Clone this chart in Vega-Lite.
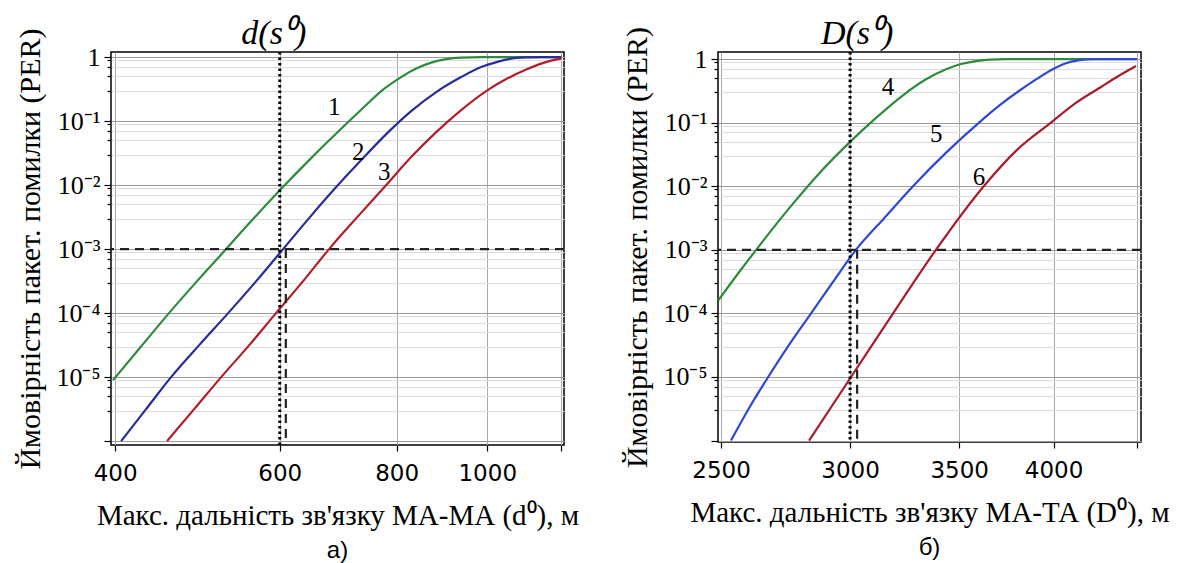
{
  "$schema": "https://vega.github.io/schema/vega-lite/v6.json",
  "background": "white",
  "padding": {"left": 15, "right": 5, "top": 16, "bottom": 3},
  "bounds": "flush",
  "spacing": 154,
  "config": {
    "view": {"stroke": "black", "strokeWidth": 1.5},
    "axis": {"domain": false, "labelColor": "black", "titleColor": "black", "tickColor": "black", "titleFontWeight": "normal", "labelFlush": false, "labelOverlap": false, "titleFont": "Liberation Serif"},
    "axisX": {"labelFont": "DejaVu Sans", "labelFontSize": 23, "titleFontSize": 29, "labelPadding": 11, "titlePadding": 16, "tickSize": 6, "tickWidth": 1.2, "gridColor": "#a8a8a8", "gridWidth": 1},
    "axisY": {"labelFont": "Liberation Serif", "labelFontSize": 26, "titleFontSize": 30, "labelPadding": 4, "titlePadding": 10, "tickWidth": 1.2}
  },
  "datasets": {
    "curvesA": [
      {"curve": "1", "x": 398, "p": 8.98e-6}, {"curve": "1", "x": 426.4, "p": 3.0e-5}, {"curve": "1", "x": 455.8, "p": 9.65e-5}, {"curve": "1", "x": 488.4, "p": 3.05e-4}, {"curve": "1", "x": 524.6, "p": 9.65e-4}, {"curve": "1", "x": 559.3, "p": 2.74e-3}, {"curve": "1", "x": 599, "p": 8.06e-3}, {"curve": "1", "x": 648.2, "p": 0.0264}, {"curve": "1", "x": 710.1, "p": 0.0965}, {"curve": "1", "x": 742.2, "p": 0.178}, {"curve": "1", "x": 770.2, "p": 0.294}, {"curve": "1", "x": 809, "p": 0.487}, {"curve": "1", "x": 839.5, "p": 0.661}, {"curve": "1", "x": 871.1, "p": 0.82}, {"curve": "1", "x": 903.8, "p": 0.931}, {"curve": "1", "x": 937.8, "p": 0.982}, {"curve": "1", "x": 985.2, "p": 1}, {"curve": "1", "x": 1200, "p": 1},
      {"curve": "2", "x": 406, "p": 1e-6}, {"curve": "2", "x": 431.7, "p": 3.16e-6}, {"curve": "2", "x": 459.1, "p": 1e-5}, {"curve": "2", "x": 492, "p": 3.16e-5}, {"curve": "2", "x": 528.4, "p": 1e-4}, {"curve": "2", "x": 566.2, "p": 3.16e-4}, {"curve": "2", "x": 604.9, "p": 1e-3}, {"curve": "2", "x": 644.9, "p": 3.05e-3}, {"curve": "2", "x": 689.4, "p": 9.3e-3}, {"curve": "2", "x": 733.3, "p": 0.0246}, {"curve": "2", "x": 779.8, "p": 0.0626}, {"curve": "2", "x": 829.2, "p": 0.1433}, {"curve": "2", "x": 881.9, "p": 0.284}, {"curve": "2", "x": 937.8, "p": 0.487}, {"curve": "2", "x": 985.2, "p": 0.698}, {"curve": "2", "x": 1027.4, "p": 0.85}, {"curve": "2", "x": 1060.8, "p": 0.947}, {"curve": "2", "x": 1100.7, "p": 0.989}, {"curve": "2", "x": 1142, "p": 1}, {"curve": "2", "x": 1200, "p": 1},
      {"curve": "3", "x": 454.6, "p": 1e-6}, {"curve": "3", "x": 485.9, "p": 3.16e-6}, {"curve": "3", "x": 519.4, "p": 1e-5}, {"curve": "3", "x": 556.6, "p": 3.16e-5}, {"curve": "3", "x": 594.5, "p": 1e-4}, {"curve": "3", "x": 635.5, "p": 3.16e-4}, {"curve": "3", "x": 677.4, "p": 1e-3}, {"curve": "3", "x": 726.1, "p": 3.16e-3}, {"curve": "3", "x": 779.8, "p": 0.01}, {"curve": "3", "x": 829.2, "p": 0.0274}, {"curve": "3", "x": 881.9, "p": 0.0673}, {"curve": "3", "x": 937.8, "p": 0.1485}, {"curve": "3", "x": 997.4, "p": 0.294}, {"curve": "3", "x": 1047.9, "p": 0.453}, {"curve": "3", "x": 1100.7, "p": 0.638}, {"curve": "3", "x": 1142.1, "p": 0.791}, {"curve": "3", "x": 1170.6, "p": 0.882}, {"curve": "3", "x": 1199.8, "p": 0.947}
    ],
    "curvesB": [
      {"curve": "4", "x": 2490, "p": 1.6e-4}, {"curve": "4", "x": 2560, "p": 4.2e-4}, {"curve": "4", "x": 2627, "p": 1e-3}, {"curve": "4", "x": 2760, "p": 4.9e-3}, {"curve": "4", "x": 2879, "p": 0.0171}, {"curve": "4", "x": 3000, "p": 0.0498}, {"curve": "4", "x": 3112, "p": 0.1186}, {"curve": "4", "x": 3224, "p": 0.255}, {"curve": "4", "x": 3340, "p": 0.48}, {"curve": "4", "x": 3436, "p": 0.69}, {"curve": "4", "x": 3509, "p": 0.835}, {"curve": "4", "x": 3584, "p": 0.93}, {"curve": "4", "x": 3661, "p": 0.98}, {"curve": "4", "x": 3739, "p": 1}, {"curve": "4", "x": 4500, "p": 1},
      {"curve": "5", "x": 2535, "p": 1e-6}, {"curve": "5", "x": 2600, "p": 3.2e-6}, {"curve": "5", "x": 2672, "p": 1e-5}, {"curve": "5", "x": 2752, "p": 3.2e-5}, {"curve": "5", "x": 2839, "p": 1e-4}, {"curve": "5", "x": 2930, "p": 3.2e-4}, {"curve": "5", "x": 3025, "p": 1e-3}, {"curve": "5", "x": 3150, "p": 3.2e-3}, {"curve": "5", "x": 3279, "p": 0.01}, {"curve": "5", "x": 3435, "p": 0.0334}, {"curve": "5", "x": 3600, "p": 0.1}, {"curve": "5", "x": 3712, "p": 0.193}, {"curve": "5", "x": 3801, "p": 0.303}, {"curve": "5", "x": 3902, "p": 0.478}, {"curve": "5", "x": 4000, "p": 0.706}, {"curve": "5", "x": 4070, "p": 0.859}, {"curve": "5", "x": 4139, "p": 0.953}, {"curve": "5", "x": 4216, "p": 0.993}, {"curve": "5", "x": 4306, "p": 1}, {"curve": "5", "x": 4500, "p": 1},
      {"curve": "6", "x": 2831, "p": 1e-6}, {"curve": "6", "x": 3004, "p": 1e-5}, {"curve": "6", "x": 3188, "p": 1e-4}, {"curve": "6", "x": 3387, "p": 1e-3}, {"curve": "6", "x": 3624, "p": 0.01}, {"curve": "6", "x": 3797, "p": 0.037}, {"curve": "6", "x": 3985, "p": 0.1}, {"curve": "6", "x": 4128, "p": 0.204}, {"curve": "6", "x": 4277, "p": 0.363}, {"curve": "6", "x": 4387, "p": 0.545}, {"curve": "6", "x": 4494, "p": 0.776}
    ],
    "hA": [{"p": 0.001}],
    "hB": [{"p": 0.001}],
    "vdotA": [{"x": 600}],
    "vdotB": [{"x": 3000}],
    "vdashA": [{"x": 609, "p": 0.001, "p2": 8.7e-7}],
    "vdashB": [{"x": 3030, "p": 0.001, "p2": 9.5e-7}],
    "labA": [{"t": "1", "x": 686, "p": 0.166}, {"t": "2", "x": 728, "p": 0.0328}, {"t": "3", "x": 776, "p": 0.016}],
    "labB": [{"t": "4", "x": 3165, "p": 0.363}, {"t": "5", "x": 3388, "p": 0.0665}, {"t": "6", "x": 3600, "p": 0.014}],
    "topA": [{"t": "d(s⁰)", "x": 600, "p": 1.2}],
    "topB": [{"t": "D(s⁰)", "x": 3000, "p": 1.29}]
  },
  "hconcat": [
    {
      "width": 453,
      "height": 393,
      "title": {"text": "а)", "orient": "bottom", "anchor": "middle", "font": "Liberation Sans", "fontSize": 24, "fontWeight": "normal", "color": "black", "offset": 9},
      "layer": [
        {
          "data": {"name": "curvesA"},
          "mark": {"type": "line", "strokeWidth": 2.2, "interpolate": "monotone"},
          "encoding": {
            "x": {"field": "x", "type": "quantitative", "scale": {"type": "log", "domain": [396, 1208], "nice": false},
              "axis": {"title": "Макс. дальність зв'язку МА-МА (d⁰), м", "values": [400, 600, 800, 1000, 1200], "labelExpr": "datum.value > 1100 ? '' : format(datum.value, 'd')", "grid": true}},
            "y": {"field": "p", "type": "quantitative", "scale": {"type": "log", "domain": [8.7e-7, 1.2], "nice": false},
              "axis": {"title": "Ймовірність пакет. помилки (PER)", "grid": true,
                "values": [1, 0.9, 0.7, 0.5, 0.3, 0.1, 0.09, 0.07, 0.05, 0.03, 0.01, 0.009, 0.007, 0.005, 0.003, 0.001, 0.0009, 0.0007, 0.0005, 0.0003, 0.0001, 0.00009, 0.00007, 0.00005, 0.00003, 0.00001, 0.000009, 0.000007, 0.000005, 0.000003, 0.000001],
                "labelExpr": "datum.value == 1 ? '1' : (abs(log(datum.value)/LN10 - round(log(datum.value)/LN10)) < 0.001 && datum.value > 0.000005 ? '10⁻' + ['','¹','²','³','⁴','⁵'][-round(log(datum.value)/LN10)] : '')",
                "gridColor": {"condition": {"test": "abs(log(datum.value)/LN10 - round(log(datum.value)/LN10)) < 0.001", "value": "#9a9a9a"}, "value": "#dcdcdc"},
                "tickSize": {"condition": {"test": "abs(log(datum.value)/LN10 - round(log(datum.value)/LN10)) < 0.001", "value": 7}, "value": 4}}},
            "color": {"field": "curve", "type": "nominal", "scale": {"domain": ["1", "2", "3", "4", "5", "6"], "range": ["#2e8a3c", "#2b2b9b", "#b01e2c", "#2e8a3c", "#3048d0", "#a81c2c"]}, "legend": null}
          }
        },
        {
          "data": {"name": "hA"},
          "mark": {"type": "rule", "strokeDash": [9, 6], "strokeWidth": 2.2, "color": "#222222"},
          "encoding": {"y": {"field": "p", "type": "quantitative", "scale": {"type": "log", "domain": [8.7e-7, 1.2], "nice": false}}}
        },
        {
          "data": {"name": "vdotA"},
          "mark": {"type": "rule", "strokeDash": [2.5, 3], "strokeWidth": 3, "color": "black"},
          "encoding": {"x": {"field": "x", "type": "quantitative", "scale": {"type": "log", "domain": [396, 1208], "nice": false}}}
        },
        {
          "data": {"name": "vdashA"},
          "mark": {"type": "rule", "strokeDash": [9, 6], "strokeWidth": 2.2, "color": "#222222"},
          "encoding": {
            "x": {"field": "x", "type": "quantitative", "scale": {"type": "log", "domain": [396, 1208], "nice": false}},
            "y": {"field": "p", "type": "quantitative", "scale": {"type": "log", "domain": [8.7e-7, 1.2], "nice": false}},
            "y2": {"field": "p2"}
          }
        },
        {
          "data": {"name": "labA"},
          "mark": {"type": "text", "font": "Liberation Serif", "fontSize": 25, "color": "black"},
          "encoding": {
            "x": {"field": "x", "type": "quantitative", "scale": {"type": "log", "domain": [396, 1208], "nice": false}},
            "y": {"field": "p", "type": "quantitative", "scale": {"type": "log", "domain": [8.7e-7, 1.2], "nice": false}},
            "text": {"field": "t"}
          }
        },
        {
          "data": {"name": "topA"},
          "mark": {"type": "text", "font": "Liberation Serif", "fontSize": 34, "fontStyle": "italic", "baseline": "alphabetic", "dy": -8, "dx": -6, "color": "black"},
          "encoding": {
            "x": {"field": "x", "type": "quantitative", "scale": {"type": "log", "domain": [396, 1208], "nice": false}},
            "y": {"field": "p", "type": "quantitative", "scale": {"type": "log", "domain": [8.7e-7, 1.2], "nice": false}},
            "text": {"field": "t"}
          }
        }
      ]
    },
    {
      "width": 423,
      "height": 390,
      "title": {"text": "б)", "orient": "bottom", "anchor": "middle", "font": "Liberation Sans", "fontSize": 24, "fontWeight": "normal", "color": "black", "offset": 9},
      "layer": [
        {
          "data": {"name": "curvesB"},
          "mark": {"type": "line", "strokeWidth": 2.2, "interpolate": "monotone"},
          "encoding": {
            "x": {"field": "x", "type": "quantitative", "scale": {"type": "log", "domain": [2489, 4526], "nice": false},
              "axis": {"title": "Макс. дальність зв'язку МА-ТА (D⁰), м", "values": [2500, 3000, 3500, 4000, 4500], "labelExpr": "datum.value > 4400 ? '' : format(datum.value, 'd')", "grid": true}},
            "y": {"field": "p", "type": "quantitative", "scale": {"type": "log", "domain": [9.5e-7, 1.29], "nice": false},
              "axis": {"title": "Ймовірність пакет. помилки (PER)", "grid": true,
                "values": [1, 0.9, 0.7, 0.5, 0.3, 0.1, 0.09, 0.07, 0.05, 0.03, 0.01, 0.009, 0.007, 0.005, 0.003, 0.001, 0.0009, 0.0007, 0.0005, 0.0003, 0.0001, 0.00009, 0.00007, 0.00005, 0.00003, 0.00001, 0.000009, 0.000007, 0.000005, 0.000003, 0.000001],
                "labelExpr": "datum.value == 1 ? '1' : (abs(log(datum.value)/LN10 - round(log(datum.value)/LN10)) < 0.001 && datum.value > 0.000005 ? '10⁻' + ['','¹','²','³','⁴','⁵'][-round(log(datum.value)/LN10)] : '')",
                "gridColor": {"condition": {"test": "abs(log(datum.value)/LN10 - round(log(datum.value)/LN10)) < 0.001", "value": "#9a9a9a"}, "value": "#dcdcdc"},
                "tickSize": {"condition": {"test": "abs(log(datum.value)/LN10 - round(log(datum.value)/LN10)) < 0.001", "value": 7}, "value": 4}}},
            "color": {"field": "curve", "type": "nominal", "scale": {"domain": ["1", "2", "3", "4", "5", "6"], "range": ["#2e8a3c", "#2b2b9b", "#b01e2c", "#2e8a3c", "#3048d0", "#a81c2c"]}, "legend": null}
          }
        },
        {
          "data": {"name": "hB"},
          "mark": {"type": "rule", "strokeDash": [9, 6], "strokeWidth": 2.2, "color": "#222222"},
          "encoding": {"y": {"field": "p", "type": "quantitative", "scale": {"type": "log", "domain": [9.5e-7, 1.29], "nice": false}}}
        },
        {
          "data": {"name": "vdotB"},
          "mark": {"type": "rule", "strokeDash": [2.5, 3], "strokeWidth": 3, "color": "black"},
          "encoding": {"x": {"field": "x", "type": "quantitative", "scale": {"type": "log", "domain": [2489, 4526], "nice": false}}}
        },
        {
          "data": {"name": "vdashB"},
          "mark": {"type": "rule", "strokeDash": [9, 6], "strokeWidth": 2.2, "color": "#222222"},
          "encoding": {
            "x": {"field": "x", "type": "quantitative", "scale": {"type": "log", "domain": [2489, 4526], "nice": false}},
            "y": {"field": "p", "type": "quantitative", "scale": {"type": "log", "domain": [9.5e-7, 1.29], "nice": false}},
            "y2": {"field": "p2"}
          }
        },
        {
          "data": {"name": "labB"},
          "mark": {"type": "text", "font": "Liberation Serif", "fontSize": 25, "color": "black"},
          "encoding": {
            "x": {"field": "x", "type": "quantitative", "scale": {"type": "log", "domain": [2489, 4526], "nice": false}},
            "y": {"field": "p", "type": "quantitative", "scale": {"type": "log", "domain": [9.5e-7, 1.29], "nice": false}},
            "text": {"field": "t"}
          }
        },
        {
          "data": {"name": "topB"},
          "mark": {"type": "text", "font": "Liberation Serif", "fontSize": 34, "fontStyle": "italic", "baseline": "alphabetic", "dy": -8, "dx": 7, "color": "black"},
          "encoding": {
            "x": {"field": "x", "type": "quantitative", "scale": {"type": "log", "domain": [2489, 4526], "nice": false}},
            "y": {"field": "p", "type": "quantitative", "scale": {"type": "log", "domain": [9.5e-7, 1.29], "nice": false}},
            "text": {"field": "t"}
          }
        }
      ]
    }
  ]
}
